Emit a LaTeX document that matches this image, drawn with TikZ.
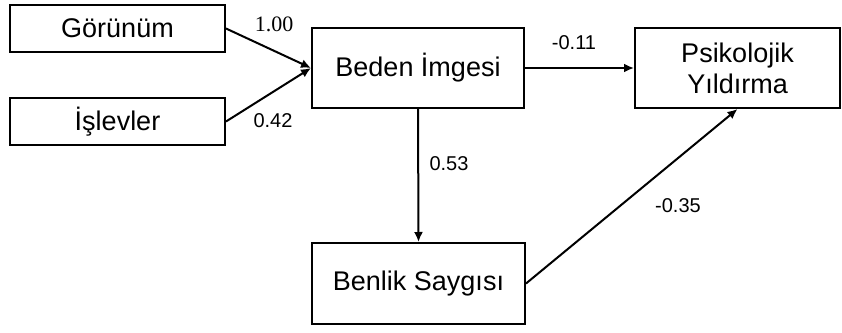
\documentclass[tikz,border=0pt]{standalone}
\usepackage{fontspec}
\setmainfont{Liberation Sans}
\newfontfamily\numserif{Liberation Serif}
\usetikzlibrary{arrows.meta}
\begin{document}
\begin{tikzpicture}[x=1pt, y=-1pt,
  box/.style={draw, line width=2pt, inner sep=0pt, align=center, font=\fontsize{27}{31}\selectfont},
  path/.style={line width=2pt, -{Latex[length=10pt, width=9pt]}},
  coef/.style={inner sep=0pt, font=\fontsize{20}{22}\selectfont}]
\useasboundingbox (0,0) rectangle (842,332);
\node[box, minimum width=215pt, minimum height=47pt] (gor) at (117.5,28.5){Görünüm};
\node[box, minimum width=215pt, minimum height=47pt] (isl) at (117.5,121.5){İşlevler};
\node[box, minimum width=212pt, minimum height=80pt] (beden) at (418,68){Beden İmgesi};
\node[box, minimum width=205pt, minimum height=80pt] (psik) at (737.5,68){Psikolojik\\Yıldırma};
\node[box, minimum width=213pt, minimum height=81pt] (benlik) at (418.5,283.5){Benlik Saygısı};
\draw[path](gor.east) -- (beden.west);
\draw[path](isl.east) -- (beden.west);
\draw[path](beden.east) -- (psik.west);
\draw[path](beden.south) -- (benlik.north);
\draw[path](benlik.east) -- (psik.south);
\node[coef, font=\fontsize{22}{24}\numserif] (c1) at (274,24){1.00};
\node[coef] (c2) at (273,121){0.42};
\node[coef] (c3) at (574,43){-0.11};
\node[coef] (c4) at (449,164){0.53};
\node[coef] (c5) at (678,206){-0.35};
\end{tikzpicture}
\end{document}
